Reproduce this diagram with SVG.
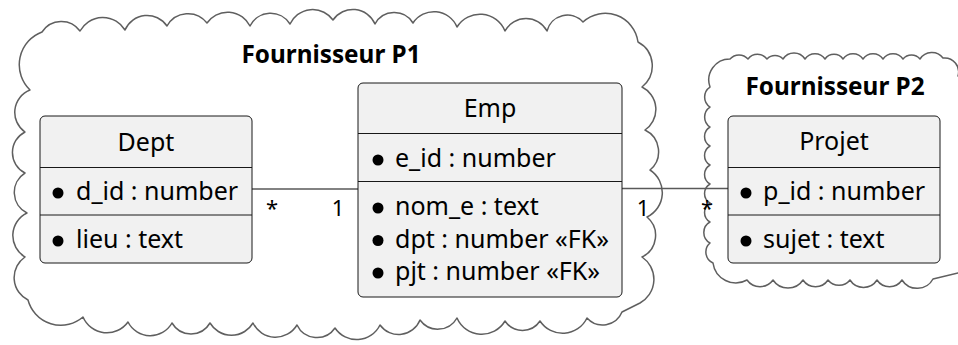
<svg xmlns="http://www.w3.org/2000/svg" width="958" height="345" viewBox="0 0 958 345">
<style>
.cloud{fill:#ffffff;stroke:#5f5f5f;stroke-width:1.5;stroke-linejoin:round}
.box{fill:#f1f1f1;stroke:#181818;stroke-width:1}
.sep{stroke:#181818;stroke-width:1}
.t{font-family:"Noto Sans",sans-serif;font-size:25px;fill:#000}
.c{text-anchor:middle}
.ttl{font-family:"Noto Sans",sans-serif;font-size:24.3px;font-weight:bold;fill:#000;text-anchor:middle}
.lbl{font-family:"Noto Sans",sans-serif;font-size:22px;fill:#000}
.edge{stroke:#595959;stroke-width:1.5;fill:none}
.dot{fill:#000}
</style>
<rect width="958" height="345" fill="#ffffff"/>
<g id="cluster-p1">
<path class="cloud" d="M42,32 A23,23 0 0 1 80,31 A26,26 0 0 1 125,30 A24,24 0 0 1 167,26 A24,24 0 0 1 207,23 A25,25 0 0 1 250,26 A23,23 0 0 1 290,24 A25,25 0 0 1 333,20 A24,24 0 0 1 375,24 A22,22 0 0 1 413,23 A25,25 0 0 1 457,27 A27,27 0 0 1 505,31 A24,24 0 0 1 547,31 A21,21 0 0 1 583,22 A33,33 0 0 1 638,42 A27,27 0 0 1 642,87 A25,25 0 0 1 645,130 A24,24 0 0 1 650,170 A27,27 0 0 1 647,217 A24,24 0 0 1 642,257 A27,27 0 0 1 640,303 L622,312 A21,21 0 0 1 587,318 A27,27 0 0 1 540,321 A21,21 0 0 1 505,321 A27,27 0 0 1 457,318 A22,22 0 0 1 420,320 A23,23 0 0 1 380,325 A26,26 0 0 1 335,328 A22,22 0 0 1 297,325 A25,25 0 0 1 253,323 A25,25 0 0 1 210,323 A22,22 0 0 1 172,323 A25,25 0 0 1 128,322 A26,26 0 0 1 83,317 A34,34 0 0 1 28,300 A25,25 0 0 1 25,257 A25,25 0 0 1 27,213 A23,23 0 0 1 25,173 A23,23 0 0 1 25,132 A24,24 0 0 1 30,90 A35,35 0 0 1 42,32 Z"/>
<text class="ttl" x="331" y="63">Fournisseur P1</text>
</g>
<g id="cluster-p2">
<path class="cloud" d="M730,59 A12,12 0 0 1 748,59 A12,12 0 0 1 767,59 A11,11 0 0 1 783,59 A13,13 0 0 1 805,59 A12,12 0 0 1 825,59 A11,11 0 0 1 843,59 A12,12 0 0 1 863,59 A12,12 0 0 1 883,59 A12,12 0 0 1 903,59 A11,11 0 0 1 920,59 A14,14 0 0 1 943,58 A14,14 0 0 1 958,76 L975,78 L975,272 L958,273 L933,279 A18,18 0 0 1 902,280 A15,15 0 0 1 877,280 A16,16 0 0 1 850,280 A14,14 0 0 1 828,280 A15,15 0 0 1 803,280 A18,18 0 0 1 773,280 A16,16 0 0 1 747,280 A23,23 0 0 1 713,263 A12,12 0 0 1 710,243 A12,12 0 0 1 710,222 A11,11 0 0 1 710,203 A11,11 0 0 1 710,184 A11,11 0 0 1 710,165 A11,11 0 0 1 710,146 A11,11 0 0 1 710,127 A12,12 0 0 1 710,107 A12,12 0 0 1 710,87 A21,21 0 0 1 730,59 Z"/>
<text class="ttl" x="835" y="95">Fournisseur P2</text>
</g>
<g id="connectors">
<line class="edge" x1="252" y1="189" x2="358" y2="189"/>
<line class="edge" x1="622" y1="188.5" x2="728" y2="188.5"/>
<text class="lbl" x="272" y="216" text-anchor="middle">*</text>
<text class="lbl" x="338" y="216" text-anchor="middle">1</text>
<text class="lbl" x="643" y="216" text-anchor="middle">1</text>
<text class="lbl" x="707" y="216" text-anchor="middle">*</text>
</g>
<g id="node-dept">
<rect class="box" x="40" y="116" width="212" height="147" rx="5"/>
<line class="sep" x1="40" y1="167.5" x2="252" y2="167.5"/>
<line class="sep" x1="40" y1="215" x2="252" y2="215"/>
<text class="t c" x="146" y="151">Dept</text>
<circle class="dot" cx="58" cy="193" r="5.5"/>
<text class="t" x="76" y="200">d_id : number</text>
<circle class="dot" cx="58" cy="241" r="5.5"/>
<text class="t" x="76" y="248">lieu : text</text>
</g>
<g id="node-emp">
<rect class="box" x="358" y="83" width="264" height="214" rx="5"/>
<line class="sep" x1="358" y1="133.5" x2="622" y2="133.5"/>
<line class="sep" x1="358" y1="181.5" x2="622" y2="181.5"/>
<text class="t c" x="490" y="117">Emp</text>
<circle class="dot" cx="378" cy="160" r="5.5"/>
<text class="t" x="395" y="167">e_id : number</text>
<circle class="dot" cx="378" cy="208" r="5.5"/>
<text class="t" x="395" y="215">nom_e : text</text>
<circle class="dot" cx="378" cy="240.5" r="5.5"/>
<text class="t" x="395" y="247.5">dpt : number «FK»</text>
<circle class="dot" cx="378" cy="273" r="5.5"/>
<text class="t" x="395" y="280">pjt : number «FK»</text>
</g>
<g id="node-projet">
<rect class="box" x="728" y="116" width="212" height="147" rx="5"/>
<line class="sep" x1="728" y1="167.5" x2="940" y2="167.5"/>
<line class="sep" x1="728" y1="215" x2="940" y2="215"/>
<text class="t c" x="834" y="150">Projet</text>
<circle class="dot" cx="746" cy="193" r="5.5"/>
<text class="t" x="763" y="200">p_id : number</text>
<circle class="dot" cx="746" cy="241" r="5.5"/>
<text class="t" x="763" y="248">sujet : text</text>
</g>
</svg>
